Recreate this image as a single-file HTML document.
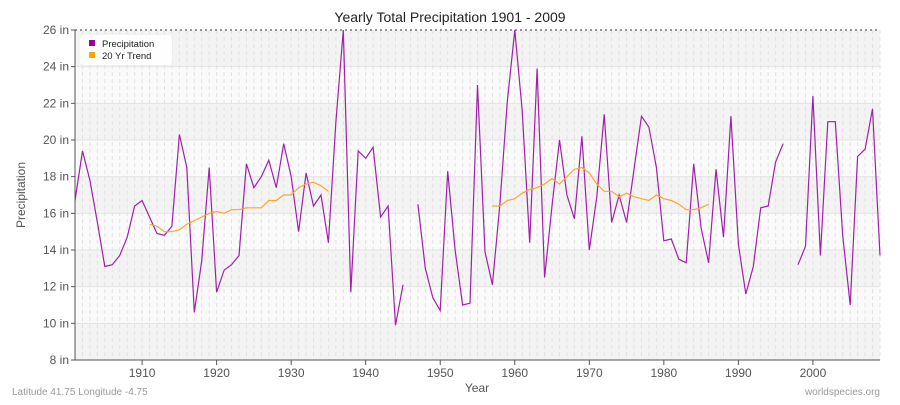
<!DOCTYPE html>
<html><head><meta charset="utf-8"><style>
body{margin:0;background:#fff;font-family:"Liberation Sans",sans-serif;}
svg text{font-family:"Liberation Sans",sans-serif;}
</style></head><body>
<svg id="chart" width="900" height="400">
<text x="450" y="22" text-anchor="middle" font-size="14" fill="#222">Yearly Total Precipitation 1901 - 2009</text>
<g id="bg"></g><g id="grid"></g><g id="series"></g><g id="axes"></g>
<text x="25" y="195" text-anchor="middle" font-size="12" fill="#555" transform="rotate(-90 25 195)">Precipitation</text>
<text x="477" y="392" text-anchor="middle" font-size="12" fill="#555">Year</text>
<text x="12" y="395" font-size="10" fill="#999">Latitude 41.75 Longitude -4.75</text>
<text x="880" y="395" text-anchor="end" font-size="10" fill="#999">worldspecies.org</text>
<g>
<rect x="80" y="35" width="92" height="30" rx="4" fill="#fff" opacity="0.9"/>
<rect x="89" y="40" width="6" height="6" fill="#990099"/>
<text x="102" y="47" font-size="9.5" fill="#222">Precipitation</text>
<rect x="89" y="52" width="6" height="6" fill="#ffa500"/>
<text x="102" y="59" font-size="9.5" fill="#222">20 Yr Trend</text>
</g>
</svg>
<script>
const precip=[16.7,19.4,17.8,15.5,13.1,13.2,13.7,14.7,16.4,16.7,15.8,14.9,14.8,15.3,20.3,18.5,10.6,13.4,18.5,11.7,12.9,13.2,13.7,18.7,17.4,18.0,18.9,17.4,19.8,18.0,15.0,18.2,16.4,17.0,14.4,21.0,26.0,11.7,19.4,19.0,19.6,15.8,16.4,9.9,12.1,null,16.5,13.0,11.4,10.7,18.3,14.0,11.0,11.1,23.0,13.9,12.1,16.5,22.1,26.0,21.6,14.4,23.9,12.5,16.4,20.0,17.0,15.7,20.2,14.0,16.9,21.4,15.5,17.0,15.5,18.4,21.3,20.7,18.5,14.5,14.6,13.5,13.3,18.7,15.2,13.3,18.4,14.7,21.3,14.3,11.6,13.1,16.3,16.4,18.8,19.8,null,13.2,14.2,22.4,13.7,21.0,21.0,14.8,11.0,19.1,19.5,21.7,13.7];
const trendA=[15.4,15.3,15.0,15.0,15.1,15.4,15.6,15.8,16.0,16.1,16.0,16.2,16.2,16.3,16.3,16.3,16.7,16.7,17.0,17.0,17.4,17.6,17.7,17.5,17.2];
const trendAStart=1911;
const trendB=[16.4,16.4,16.7,16.8,17.1,17.3,17.4,17.6,17.9,17.6,18.0,18.4,18.5,18.2,17.6,17.2,17.2,16.9,17.1,16.9,16.8,16.7,17.0,16.8,16.7,16.5,16.2,16.2,16.3,16.5];
const trendBStart=1957;
const yTicks=[8,10,12,14,16,18,20,22,24,26];
const xTicks=[1910,1920,1930,1940,1950,1960,1970,1980,1990,2000];
const firstYear=1901;
const NS="http://www.w3.org/2000/svg";
const L=75,R=880,T=30,B=360;
const xs=y=>L+(y-1901)*(R-L)/108;
const ys=v=>B-(v-8)*(B-T)/18;
function mk(tag,attrs,parent){const e=document.createElementNS(NS,tag);for(const k in attrs)e.setAttribute(k,attrs[k]);document.getElementById(parent).appendChild(e);return e;}
for(let i=0;i<yTicks.length-1;i++){
 const r=mk('rect',{x:L,y:ys(yTicks[i+1]),width:R-L,height:ys(yTicks[i])-ys(yTicks[i+1]),fill:(i%2===0)?'#f3f3f3':'#fafafa'},'bg');
 
 
}
for(let y=1901;y<=2009;y++){
 const l=mk('line',{x1:xs(y),x2:xs(y),y1:T,y2:B,stroke:'#e2e2e2','stroke-dasharray':'4,3','stroke-width':1},'grid');
 
 
}
yTicks.forEach(v=>{
 const l=mk('line',{x1:L,x2:R,y1:ys(v),y2:ys(v),stroke:v===26?'#333':'#e4e4e4','stroke-dasharray':v===26?'2,3':'none'},'grid');
 
 
 const t=mk('text',{x:L-6,y:ys(v)+4,'text-anchor':'end','font-size':12,fill:'#555'},'axes');
 t.textContent=v+' in';
 
 
 const tk=mk('line',{x1:L-4,x2:L,y1:ys(v),y2:ys(v),stroke:'#555'},'axes');
 
 
});
xTicks.forEach(v=>{
 const tk=mk('line',{x1:xs(v),x2:xs(v),y1:B,y2:B+5,stroke:'#555'},'axes');
 
 
 const t=mk('text',{x:xs(v),y:B+17,'text-anchor':'middle','font-size':12,fill:'#555'},'axes');
 t.textContent=v;
 
 
});
const ax=mk('path',{d:`M${L},${T}V${B}H${R}`,fill:'none',stroke:'#555','stroke-width':1},'axes');


function segs(vals,start){const out=[];let cur='';vals.forEach((v,i)=>{if(v===null){if(cur)out.push(cur);cur='';return;}cur+=(cur?'L':'M')+xs(start+i).toFixed(1)+','+ys(v).toFixed(1);});if(cur)out.push(cur);return out.join('');}
const p=mk('path',{d:segs(precip,firstYear),fill:'none',stroke:'#a020a8','stroke-width':1.2},'series');


const ta=mk('path',{d:segs(trendA,trendAStart),fill:'none',stroke:'#ffa52a','stroke-width':1.2},'series');


const tb=mk('path',{d:segs(trendB,trendBStart),fill:'none',stroke:'#ffa52a','stroke-width':1.2},'series');


</script>
</body></html>
